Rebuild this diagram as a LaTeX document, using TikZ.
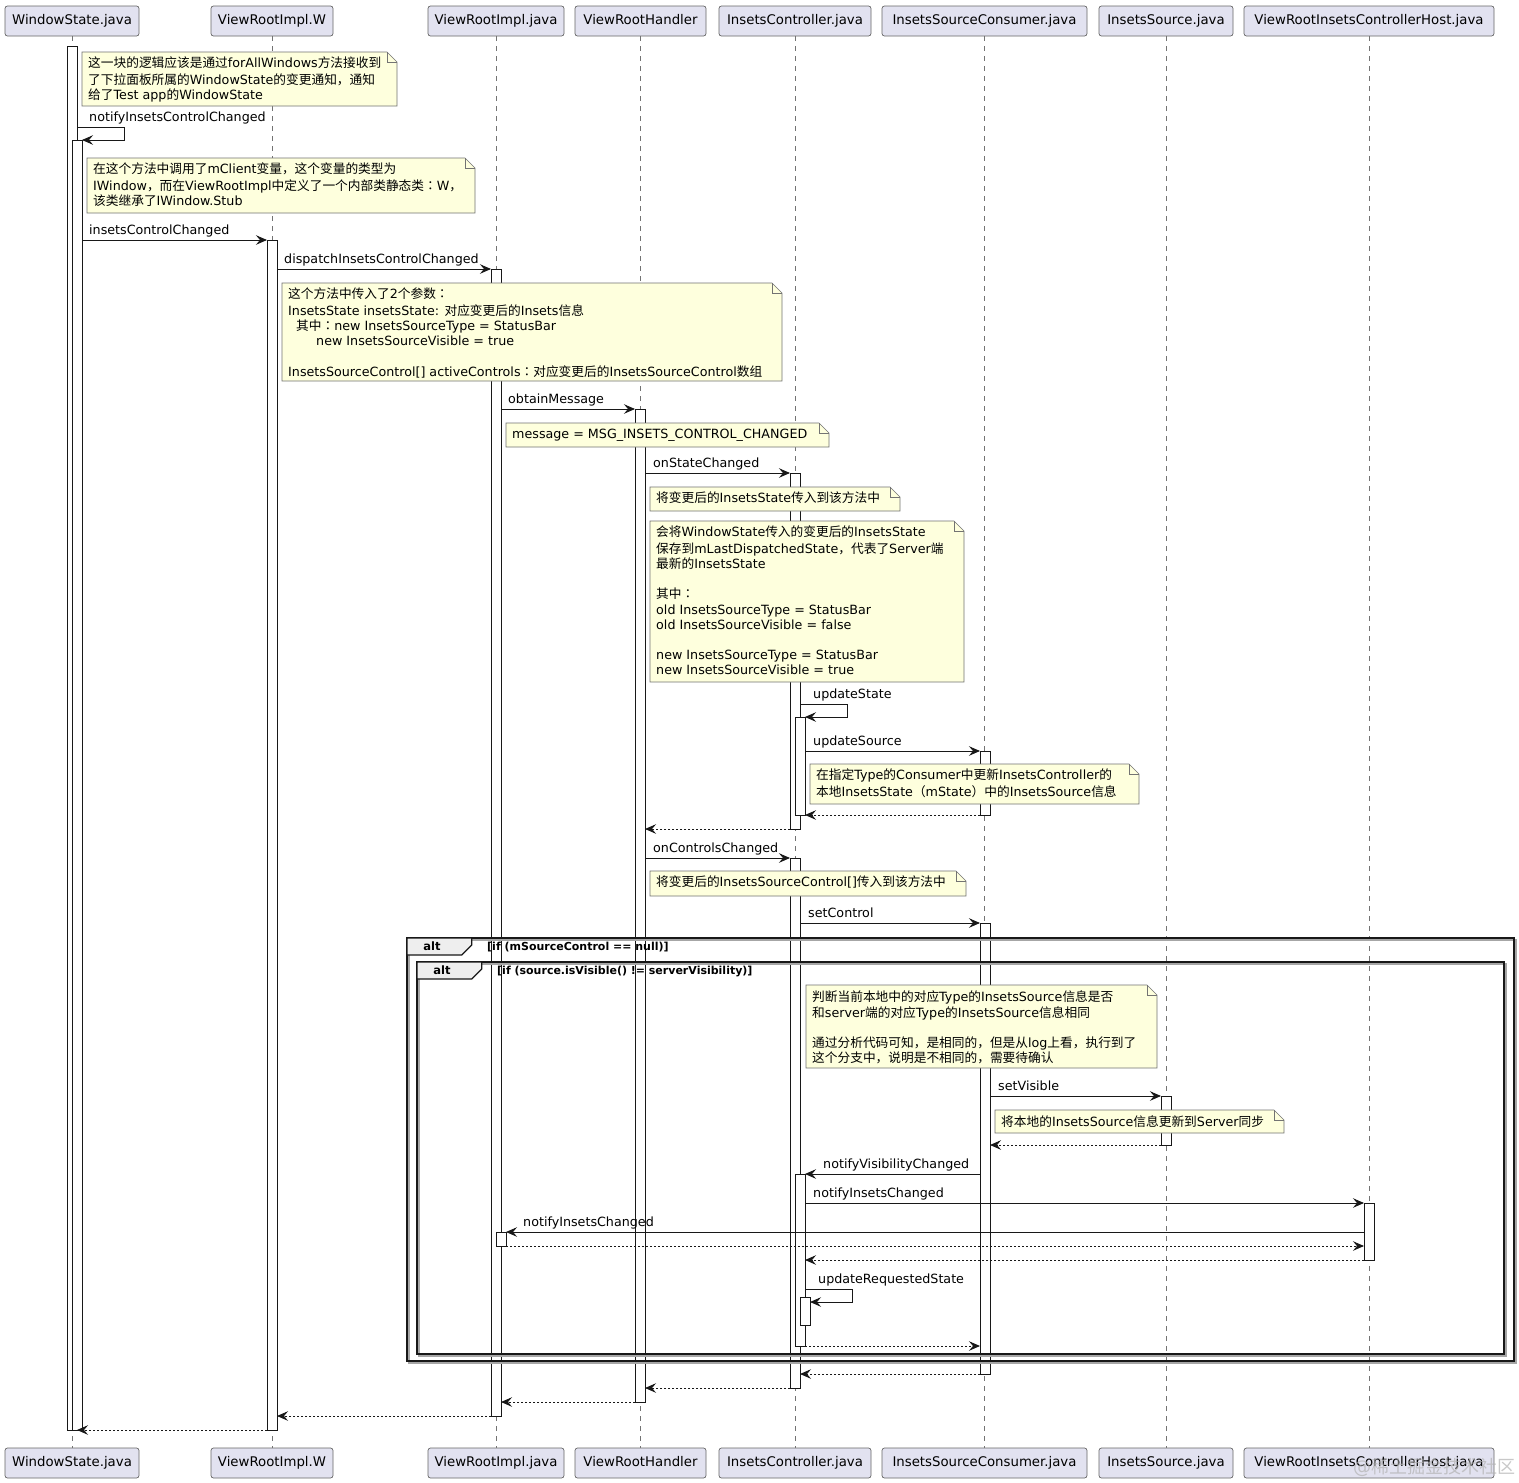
\documentclass[tikz,border=0pt]{standalone}
\usepackage{fontspec}
\setmainfont{DejaVu Sans}
\newfontfamily\cjkfont{Noto Sans CJK SC}
\newfontfamily\cjkjp{Noto Sans CJK JP}
\newXeTeXintercharclass\cjkcls
\newXeTeXintercharclass\colcls
\makeatletter
\count@="4E00 \loop \XeTeXcharclass\count@=\cjkcls \ifnum\count@<"9FFF \advance\count@\@ne \repeat
\count@="3000 \loop \XeTeXcharclass\count@=\cjkcls \ifnum\count@<"303F \advance\count@\@ne \repeat
\count@="FF00 \loop \XeTeXcharclass\count@=\cjkcls \ifnum\count@<"FFEF \advance\count@\@ne \repeat
\makeatother
\XeTeXcharclass"FF1A=\colcls
\XeTeXinterchartoks 0 \cjkcls = {\begingroup\cjkfont}
\XeTeXinterchartoks 4095 \cjkcls = {\begingroup\cjkfont}
\XeTeXinterchartoks \cjkcls 0 = {\endgroup}
\XeTeXinterchartoks \cjkcls 4095 = {\endgroup}
\XeTeXinterchartoks 0 \colcls = {\begingroup\cjkjp}
\XeTeXinterchartoks 4095 \colcls = {\begingroup\cjkjp}
\XeTeXinterchartoks \colcls 0 = {\endgroup}
\XeTeXinterchartoks \colcls 4095 = {\endgroup}
\XeTeXinterchartoks \cjkcls \colcls = {\endgroup\begingroup\cjkjp}
\XeTeXinterchartoks \colcls \cjkcls = {\endgroup\begingroup\cjkfont}
\XeTeXinterchartokenstate=1
\usetikzlibrary{arrows.meta}
\definecolor{partfill}{HTML}{E2E2F0}
\definecolor{notefill}{HTML}{FEFFDD}
\definecolor{tabfill}{HTML}{EEEEEE}
\definecolor{linec}{HTML}{181818}
\tikzset{
  part/.style={draw=black!60, fill=partfill, rounded corners=2.5pt, minimum height=30pt, inner sep=0pt, line width=0.7pt, text height=10pt, text depth=3pt, font=\fontsize{13.3}{16}\selectfont},
  lifeline/.style={draw=black!55, line width=0.7pt, dash pattern=on 5pt off 5pt},
  actbar/.style={draw=linec, fill=white, line width=0.8pt},
  notebg/.style={draw=black!55, fill=notefill, line width=0.7pt},
  notetext/.style={anchor=north west, inner sep=0pt, align=left, font=\fontsize{12.7}{15.2}\selectfont},
  msglabel/.style={anchor=base west, inner sep=0pt, font=\fontsize{12.7}{15.2}\selectfont},
  callarrow/.style={draw=linec, line width=0.9pt, -{Stealth[length=11pt,width=9.5pt,inset=4pt]}},
  retarrow/.style={callarrow, dash pattern=on 2pt off 2pt},
  framebox/.style={draw=linec, line width=1.5pt},
  frameshadow/.style={draw=black!35, line width=1.5pt},
  tabbox/.style={fill=tabfill, draw=linec, line width=1.2pt},
  guard/.style={anchor=base west, inner sep=0pt, font=\bfseries\fontsize{11}{13}\selectfont},
  alttxt/.style={inner sep=0pt, font=\bfseries\fontsize{11.5}{13}\selectfont}
}
% name, x1, y1, x2, y2, text
\newcommand\drawnote[6]{%
  \draw[notebg] (#2,#3) -- ({#4-10},#3) -- (#4,{#3+10}) -- (#4,#5) -- (#2,#5) -- cycle;
  \draw[notebg, fill=none] ({#4-10},#3) -- ({#4-10},{#3+10}) -- (#4,{#3+10});
  \node[notetext] (#1) at ({#2+6},{#3+5}) {\strut #6};}
% name, y, xfrom, xto, labelx, label
\newcommand\callmsg[6]{%
  \coordinate (#1s) at (#3,#2); \coordinate (#1e) at (#4,#2);
  \draw[callarrow] (#1s) -- (#1e);
  \node[msglabel] (#1l) at (#5,{#2-6}) {#6};}
% name, y, xfrom, xto
\newcommand\retmsg[4]{%
  \coordinate (#1s) at (#3,#2); \coordinate (#1e) at (#4,#2);
  \draw[retarrow] (#1s) -- (#1e);}
% name, xfrom, ytop, xright, ybot, xto, labelx, label
\newcommand\selfmsg[8]{%
  \coordinate (#1s) at (#2,#3); \coordinate (#1a) at (#4,#3);
  \coordinate (#1b) at (#4,#5); \coordinate (#1e) at (#6,#5);
  \draw[callarrow] (#1s) -- (#1a) -- (#1b) -- (#1e);
  \node[msglabel] (#1l) at (#7,{#3-6}) {#8};}
% name, x1, y1, x2, y2, tabright, guardx, guard
\newcommand\altframe[8]{%
  \draw[frameshadow] ({#2+2},{#3+2}) rectangle ({#4+2},{#5+2});
  \draw[framebox] (#2,#3) rectangle (#4,#5);
  \draw[tabbox] (#2,#3) -- (#6,#3) -- (#6,{#3+7}) -- ({#6-10},{#3+17}) -- (#2,{#3+17}) -- cycle;
  \node[alttxt] (#1t) at ({#2+25},{#3+8.5}) {alt};
  \node[guard] (#1g) at (#7,{#3+12}) {#8};}

\begin{document}
\begin{tikzpicture}[x=1pt,y=-1pt]
\fill[white] (0,0) rectangle (1519,1483);
\useasboundingbox (0,0) rectangle (1519,1483);

% participants
\foreach \n/\x/\w/\t in {ws/72/134/WindowState.java, w/272/122/ViewRootImpl.W, vri/496/136/ViewRootImpl.java, vrh/640.5/131/ViewRootHandler, ic/795/152/InsetsController.java, isc/984.5/205/InsetsSourceConsumer.java, is/1166/134/InsetsSource.java, host/1369/250/ViewRootInsetsControllerHost.java}{
  \node[part, minimum width=\w pt] (\n) at (\x,21) {\t};
  \node[part, minimum width=\w pt] (\n b) at (\x,1463) {\t};
  \draw[lifeline] (\n.south) -- (\n b.north);
}

% activation bars
\draw[actbar] (67,46) rectangle (77,1430);
\draw[actbar] (72,140) rectangle (82,1430);
\draw[actbar] (267,240) rectangle (277,1430);
\draw[actbar] (491,269) rectangle (501,1416);
\draw[actbar] (496,1232) rectangle (506,1246);
\draw[actbar] (635,409) rectangle (645,1402);
\draw[actbar] (790,473) rectangle (800,829);
\draw[actbar] (795,717) rectangle (805,815);
\draw[actbar] (790,858) rectangle (800,1388);
\draw[actbar] (795,1174) rectangle (805,1346);
\draw[actbar] (800,1297) rectangle (810,1325);
\draw[actbar] (980,751) rectangle (990,815);
\draw[actbar] (980,923) rectangle (990,1374);
\draw[actbar] (1161,1096) rectangle (1171,1145);
\draw[actbar] (1364,1203) rectangle (1374,1260);

% notes
\drawnote{n1}{82}{52}{397}{106}{这一块的逻辑应该是通过forAllWindows方法接收到\\了下拉面板所属的WindowState的变更通知，通知\\给了Test app的WindowState}
\drawnote{n2}{87}{158}{475}{213}{在这个方法中调用了mClient变量，这个变量的类型为\\IWindow，而在ViewRootImpl中定义了一个内部类静态类：W，\\该类继承了IWindow.Stub}
\drawnote{n3}{282}{283}{782}{381}{这个方法中传入了2个参数：\\InsetsState insetsState: 对应变更后的Insets信息\\\hspace*{8pt}其中：new InsetsSourceType = StatusBar\\\hspace*{28pt}new InsetsSourceVisible = true\\[15.2pt]InsetsSourceControl[] activeControls：对应变更后的InsetsSourceControl数组}
\drawnote{n4}{506}{423}{829}{447}{message = MSG\_INSETS\_CONTROL\_CHANGED}
\drawnote{n5}{650}{487}{900}{511}{将变更后的InsetsState传入到该方法中}
\drawnote{n6}{650}{521}{964}{682}{会将WindowState传入的变更后的InsetsState\\保存到mLastDispatchedState，代表了Server端\\最新的InsetsState\\[15.2pt]其中：\\old InsetsSourceType = StatusBar\\old InsetsSourceVisible = false\\[15.2pt]new InsetsSourceType = StatusBar\\new InsetsSourceVisible = true}
\drawnote{n7}{810}{764}{1139}{804}{在指定Type的Consumer中更新InsetsController的\\本地InsetsState（mState）中的InsetsSource信息}
\drawnote{n8}{650}{871}{966}{896}{将变更后的InsetsSourceControl[]传入到该方法中}
\drawnote{n9}{806}{985}{1157}{1068}{判断当前本地中的对应Type的InsetsSource信息是否\\和server端的对应Type的InsetsSource信息相同\\[15.2pt]通过分析代码可知，是相同的，但是从log上看，执行到了\\这个分支中，说明是不相同的，需要待确认}
\drawnote{n10}{995}{1110}{1284}{1133}{将本地的InsetsSource信息更新到Server同步}

% messages
\selfmsg{m1}{77}{127}{124}{140}{82}{89}{notifyInsetsControlChanged}
\callmsg{m2}{240}{82}{267}{89}{insetsControlChanged}
\callmsg{m3}{269}{277}{491}{284}{dispatchInsetsControlChanged}
\callmsg{m4}{409}{501}{635}{508}{obtainMessage}
\callmsg{m5}{473}{645}{790}{653}{onStateChanged}
\selfmsg{m6}{800}{704}{847}{717}{805}{813}{updateState}
\callmsg{m7}{751}{805}{980}{813}{updateSource}
\retmsg{r1}{815}{980}{805}
\retmsg{r2}{829}{790}{645}
\callmsg{m8}{858}{645}{790}{653}{onControlsChanged}
\callmsg{m9}{923}{800}{980}{808}{setControl}
\callmsg{m10}{1096}{990}{1161}{998}{setVisible}
\retmsg{r3}{1145}{1161}{990}
\callmsg{m11}{1174}{980}{805}{823}{notifyVisibilityChanged}
\callmsg{m12}{1203}{805}{1364}{813}{notifyInsetsChanged}
\callmsg{m13}{1232}{1364}{506}{523}{notifyInsetsChanged}
\retmsg{r4}{1246}{506}{1364}
\retmsg{r5}{1260}{1364}{805}
\selfmsg{m14}{805}{1289}{852}{1302}{810}{818}{updateRequestedState}
\retmsg{r6}{1346}{805}{980}
\retmsg{r7}{1374}{980}{800}
\retmsg{r8}{1388}{790}{645}
\retmsg{r9}{1402}{635}{501}
\retmsg{r10}{1416}{491}{277}
\retmsg{r11}{1430}{267}{77}

% alt frames
\altframe{a1}{407}{938}{1514}{1361}{471.7}{487}{[if (mSourceControl == null)]}
\altframe{a2}{417}{962}{1504}{1354}{481.7}{497}{[if (source.isVisible() != serverVisibility)]}

% watermark
\node[inner sep=0pt, text=black!30, opacity=0.7, font=\fontsize{18}{20}\selectfont] (wm) at (1434,1467) {@稀土掘金技术社区};
\end{tikzpicture}
\end{document}
